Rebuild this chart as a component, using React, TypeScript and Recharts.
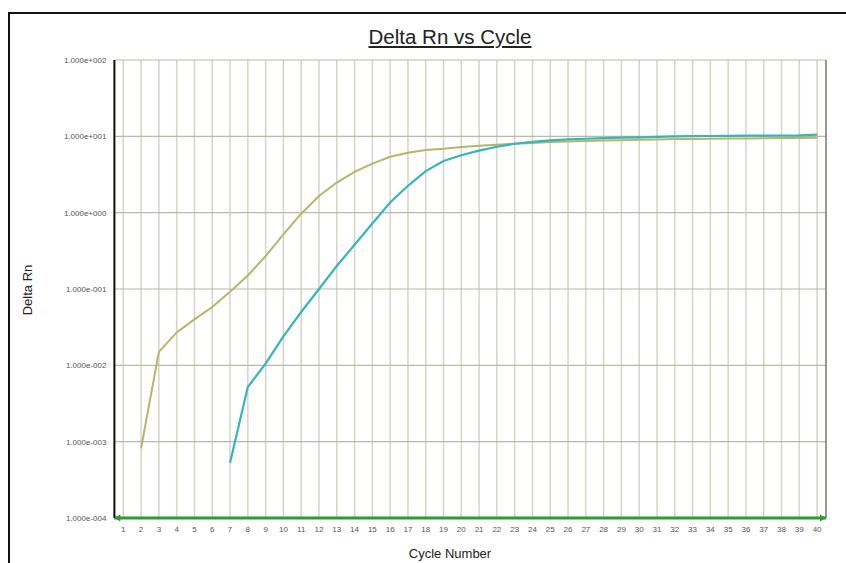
import { LineChart, Line, XAxis, YAxis, CartesianGrid, ReferenceLine, ReferenceDot } from 'recharts'

// cycle numbers on the x axis
const cycles = [
  1, 2, 3, 4, 5, 6, 7, 8, 9, 10, 11, 12, 13, 14, 15, 16, 17, 18, 19, 20,
  21, 22, 23, 24, 25, 26, 27, 28, 29, 30, 31, 32, 33, 34, 35, 36, 37, 38, 39, 40,
]

// olive amplification curve (starts at cycle 2)
const sampleA = [
  null, 0.00082, 0.015, 0.027, 0.04, 0.058, 0.092, 0.15, 0.27, 0.52,
  0.97, 1.65, 2.48, 3.42, 4.4, 5.4, 6.1, 6.6, 6.9, 7.25,
  7.5, 7.75, 8.0, 8.2, 8.4, 8.55, 8.7, 8.8, 8.9, 9.0,
  9.1, 9.2, 9.25, 9.3, 9.35, 9.4, 9.45, 9.5, 9.5, 9.55,
]

// teal amplification curve (starts at cycle 7)
const sampleB = [
  null, null, null, null, null, null, 0.00053, 0.0052, 0.0105, 0.024,
  0.05, 0.1, 0.2, 0.38, 0.72, 1.36, 2.25, 3.5, 4.76, 5.65,
  6.5, 7.3, 8.0, 8.45, 8.85, 9.1, 9.3, 9.45, 9.6, 9.7,
  9.85, 10.0, 10.05, 10.1, 10.15, 10.2, 10.2, 10.25, 10.3, 10.5,
]

const yTicks = [0.0001, 0.001, 0.01, 0.1, 1, 10, 100]

const data = cycles.map((c, i) => ({ cycle: c, a: sampleA[i], b: sampleB[i] }))

const FONT = '"Liberation Sans", Arial, sans-serif'
const GREEN = '#2f9a2f'

function fmtExp(v: number) {
  const e = Math.round(Math.log10(v))
  return `1.000e${e < 0 ? '-' : '+'}${String(Math.abs(e)).padStart(3, '0')}`
}

function YLabel() {
  return (
    <text
      x={32}
      y={290}
      transform="rotate(-90, 32, 290)"
      textAnchor="middle"
      fontSize={13}
      fontFamily={FONT}
      fill="#222"
    >
      Delta Rn
    </text>
  )
}

// small arrow heads at both ends of the green baseline
function ArrowRight(p: any) {
  const { cx, cy } = p
  return <path d={`M${cx - 6},${cy - 3.5} L${cx},${cy} L${cx - 6},${cy + 3.5} Z`} fill={GREEN} />
}

function ArrowLeft(p: any) {
  const { cx, cy } = p
  return <path d={`M${cx + 6},${cy - 3.5} L${cx},${cy} L${cx + 6},${cy + 3.5} Z`} fill={GREEN} />
}

export default function App() {
  return (
    <div
      style={{
        position: 'absolute',
        left: 0,
        top: 0,
        width: 846,
        height: 563,
        overflow: 'hidden',
        background: '#fff',
        fontFamily: FONT,
      }}
    >
      {/* outer frame, only top and left edges visible */}
      <div
        style={{
          position: 'absolute',
          left: 8,
          top: 12,
          width: 900,
          height: 700,
          borderTop: '2.5px solid #111',
          borderLeft: '2.5px solid #111',
        }}
      />
      <div
        style={{
          position: 'absolute',
          left: 300,
          top: 27,
          width: 300,
          textAlign: 'center',
          fontSize: 20.5,
          lineHeight: '20.5px',
          color: '#222',
          textDecoration: 'underline',
        }}
      >
        Delta Rn vs Cycle
      </div>
      <div
        style={{
          position: 'absolute',
          left: 350,
          top: 547,
          width: 200,
          textAlign: 'center',
          fontSize: 13,
          lineHeight: '14px',
          color: '#222',
        }}
      >
        Cycle Number
      </div>
      <div style={{ position: 'absolute', left: 0, top: 0 }}>
        <LineChart width={846} height={563} data={data} margin={{ top: 60, right: 20, left: 0, bottom: 0 }}>
          <CartesianGrid horizontal={false} stroke="#d4d4c6" strokeWidth={1.5} />
          <CartesianGrid vertical={false} stroke="#b9b9aa" strokeWidth={1.2} />
          <XAxis
            dataKey="cycle"
            type="number"
            domain={[0.5, 40.5]}
            ticks={cycles}
            interval={0}
            height={45}
            tickLine={false}
            axisLine={{ stroke: GREEN, strokeWidth: 3 }}
            tick={{ fontSize: 8, fill: '#555', fontFamily: FONT }}
            allowDataOverflow
          />
          <YAxis
            type="number"
            scale="log"
            domain={[0.0001, 100]}
            ticks={yTicks}
            interval={0}
            width={114.4}
            tickLine={false}
            axisLine={{ stroke: '#111', strokeWidth: 2 }}
            tick={{ fontSize: 8, fill: '#555', fontFamily: FONT }}
            tickFormatter={fmtExp}
            allowDataOverflow
            label={<YLabel />}
          />
          <ReferenceLine x={40.5} stroke="#555" strokeWidth={1} />
          <Line
            type="linear"
            dataKey="a"
            stroke="#b2b76a"
            strokeWidth={2}
            dot={false}
            connectNulls={false}
            isAnimationActive={false}
          />
          <Line
            type="linear"
            dataKey="b"
            stroke="#38b5b8"
            strokeWidth={2.2}
            dot={false}
            connectNulls={false}
            isAnimationActive={false}
          />
          <ReferenceDot x={40.5} y={0.0001} ifOverflow="visible" shape={ArrowRight} />
          <ReferenceDot x={0.5} y={0.0001} ifOverflow="visible" shape={ArrowLeft} />
        </LineChart>
      </div>
    </div>
  )
}
